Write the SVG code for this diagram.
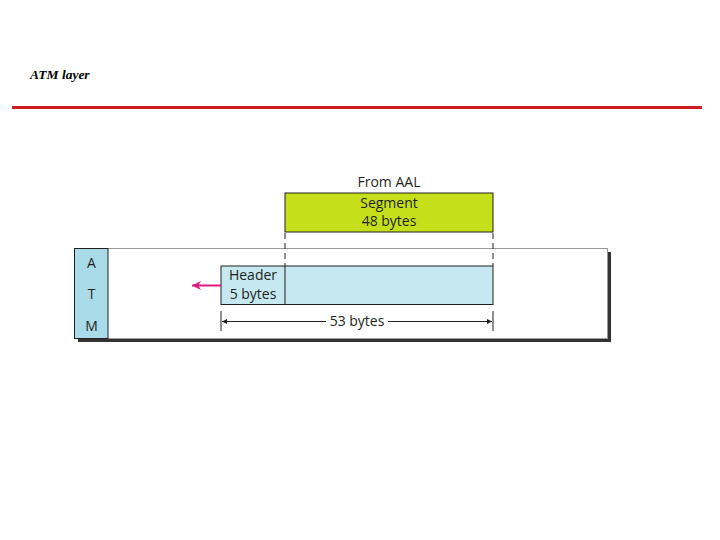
<svg xmlns="http://www.w3.org/2000/svg" width="720" height="540" viewBox="0 0 720 540">
<defs>
<style>
.t{font-family:"Open Sans","Liberation Sans",sans-serif;font-size:14px;fill:#231f20;text-anchor:middle}
.dash{stroke:#231f20;stroke-width:1;stroke-dasharray:6,4;fill:none}
.ln{stroke:#231f20;stroke-width:1;fill:none}
</style>
<marker id="ah" viewBox="0 0 10 10" refX="10" refY="5" markerWidth="7" markerHeight="5" orient="auto-start-reverse" markerUnits="userSpaceOnUse"><path d="M0,0 L10,5 L0,10 z" fill="#231f20"/></marker>
<marker id="pk" viewBox="0 0 10 10" refX="10" refY="5" markerWidth="12" markerHeight="9" orient="auto" markerUnits="userSpaceOnUse"><path d="M0,0 L10,5 L0,10 L3,5 z" fill="#e0187c"/></marker>
</defs>
<rect width="720" height="540" fill="#ffffff"/>
<text x="30" y="79" font-family="Liberation Serif,serif" font-style="italic" font-weight="bold" font-size="13.5" fill="#000">ATM layer</text>
<line x1="12" y1="107.5" x2="702" y2="107.5" stroke="#d01c24" stroke-width="3"/>
<g id="atm">
<rect x="78" y="252" width="533" height="90" fill="#333"/>
<rect x="74.5" y="248.5" width="533" height="90" fill="#fff" stroke="#999" stroke-width="1"/>
<rect x="74.5" y="248.5" width="33.5" height="90" fill="#a9dbe9" stroke="#231f20" stroke-width="1"/>
<text class="t" x="91.5" y="268">A</text>
<text class="t" x="91.5" y="299">T</text>
<text class="t" x="91.5" y="331">M</text>
</g>
<g id="from">
<text class="t" x="389" y="187">From AAL</text>
</g>
<g id="segment">
<rect x="285" y="193" width="208" height="39" fill="#c5e01a" stroke="#231f20" stroke-width="1"/>
<text class="t" x="389" y="208">Segment</text>
<text class="t" x="389" y="226">48 bytes</text>
</g>
<g id="cell">
<rect x="221" y="266" width="272" height="38.5" fill="#c5e8f1" stroke="#231f20" stroke-width="1"/>
<line class="ln" x1="285" y1="266" x2="285" y2="304.5"/>
<text class="t" x="253" y="280">Header</text>
<text class="t" x="253" y="299">5 bytes</text>
</g>
<g id="connectors">
<line class="dash" x1="285" y1="233" x2="285" y2="266"/>
<line class="dash" x1="493" y1="233" x2="493" y2="266"/>
<line x1="221" y1="285.5" x2="192" y2="285.5" stroke="#e0187c" stroke-width="2" marker-end="url(#pk)"/>
<line class="ln" x1="221" y1="311" x2="221" y2="331"/>
<line class="ln" x1="493" y1="311" x2="493" y2="331"/>
<line class="ln" x1="222" y1="321.5" x2="326" y2="321.5" marker-start="url(#ah)"/>
<line class="ln" x1="388" y1="321.5" x2="492" y2="321.5" marker-end="url(#ah)"/>
<text class="t" x="357" y="326">53 bytes</text>
</g>
</svg>
